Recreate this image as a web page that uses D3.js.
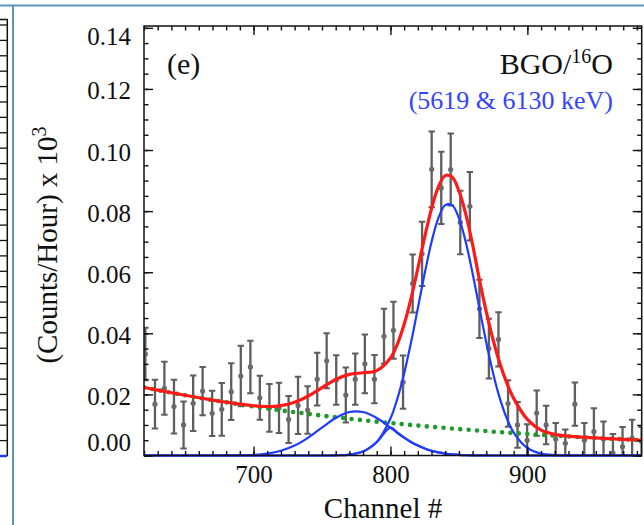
<!DOCTYPE html>
<html lang="en">
<head>
<meta charset="utf-8">
<title>BGO/16O (5619 &amp; 6130 keV)</title>
<style>
  body { margin: 0; background: #fff; }
  svg { display: block; }
  text { font-family: "Liberation Serif", "Times New Roman", serif; fill: #111; }
</style>
</head>
<body>
<svg width="644" height="525"></svg>
<script src="https://d3js.org/d3.v7.min.js"></script>
<script>

// measured spectrum, bin centres (channel) and counts/hour x 10^3 with errors
var channels = [621.0, 628.0, 634.9, 641.9, 648.9, 655.9, 662.8, 669.8, 676.8, 683.7,
                690.7, 697.7, 704.6, 711.6, 718.6, 725.6, 732.5, 739.5, 746.5, 753.4,
                760.4, 767.4, 774.3, 781.3, 788.3, 795.3, 802.2, 809.2, 816.2, 823.1,
                830.1, 837.1, 844.0, 851.0, 858.0, 865.0, 871.9, 878.9, 885.9, 892.8,
                899.8, 906.8, 913.7, 920.7, 927.7, 934.7, 941.6, 948.6, 955.6, 962.5,
                969.5, 976.5, 983.4];
var counts = [0.0332, 0.0168, 0.0220, 0.0160, 0.0100, 0.0171, 0.0211, 0.0138, 0.0151, 0.0209,
              0.0260, 0.0290, 0.0189, 0.0156, 0.0156, 0.0118, 0.0164, 0.0149, 0.0250, 0.0310,
              0.0247, 0.0198, 0.0250, 0.0300, 0.0250, 0.0390, 0.0410, 0.0240, 0.0563, 0.0660,
              0.0937, 0.0876, 0.0936, 0.0763, 0.0816, 0.0480, 0.0350, 0.0380, 0.0170, 0.0100,
              0.0050, 0.0139, 0.0100, 0.0054, 0.0040, 0.0168, 0.0050, 0.0078, 0.0054, 0.0008,
              0.0029, 0.0057, 0.0046];
var errors = [0.0086, 0.0080, 0.0087, 0.0088, 0.0077, 0.0091, 0.0079, 0.0074, 0.0086, 0.0093,
              0.0099, 0.0086, 0.0072, 0.0078, 0.0082, 0.0077, 0.0094, 0.0078, 0.0086, 0.0090,
              0.0081, 0.0090, 0.0084, 0.0096, 0.0079, 0.0090, 0.0093, 0.0087, 0.0095, 0.0105,
              0.0124, 0.0118, 0.0118, 0.0104, 0.0112, 0.0095, 0.0098, 0.0089, 0.0076, 0.0075,
              0.0052, 0.0074, 0.0063, 0.0052, 0.0045, 0.0071, 0.0056, 0.0077, 0.0057, 0.0062,
              0.0064, 0.0060, 0.0047];

var fitChannels = [620, 630, 640, 650, 660, 670, 680, 690, 700, 710, 720, 730, 740, 750, 760,
                   770, 780, 790, 800, 805, 810, 815, 820, 825, 830, 835, 840, 845, 850, 855,
                   860, 865, 870, 875, 880, 885, 890, 900, 910, 920, 930, 940, 950, 960, 970,
                   980, 984];
var background = [0.02230, 0.02140, 0.02054, 0.01971, 0.01892, 0.01815, 0.01742, 0.01672, 0.01605, 0.01540,
                  0.01478, 0.01418, 0.01361, 0.01306, 0.01254, 0.01203, 0.01155, 0.01108, 0.01064, 0.01042,
                  0.01021, 0.00999, 0.00980, 0.00959, 0.00940, 0.00921, 0.00902, 0.00884, 0.00866, 0.00848,
                  0.00831, 0.00814, 0.00798, 0.00781, 0.00765, 0.00750, 0.00735, 0.00705, 0.00677, 0.00649,
                  0.00623, 0.00598, 0.00574, 0.00551, 0.00529, 0.00507, 0.00499];
var peak5619 = [0, 0, 0, 0, 0, 0, 0.00002, 0.00007, 0.00023, 0.00064,
                0.00155, 0.00324, 0.00586, 0.00913, 0.01228, 0.01423, 0.01423, 0.01228, 0.00913, 0.00745,
                0.00586, 0.00444, 0.00324, 0.00228, 0.00155, 0.00101, 0.00064, 0.00039, 0.00023, 0.00013,
                0.00007, 0.00003, 0.00001, 0, 0, 0, 0, 0, 0, 0,
                0, 0, 0, 0, 0, 0, 0];
var peak6130 = [0, 0, 0, 0, 0, 0, 0, 0, 0, 0,
                0, 0, 0, 0, 0.00006, 0.00031, 0.00130, 0.00442, 0.01212, 0.01854,
                0.02688, 0.03696, 0.04820, 0.05960, 0.06989, 0.07772, 0.08195, 0.08195, 0.07772, 0.06989,
                0.05960, 0.04820, 0.03696, 0.02688, 0.01854, 0.01212, 0.00752, 0.00246, 0.00065, 0.00014,
                0, 0, 0, 0, 0, 0, 0];
var totalFit = [0.02230, 0.02140, 0.02054, 0.01971, 0.01892, 0.01815, 0.01744, 0.01679, 0.01628, 0.01604,
                0.01633, 0.01742, 0.01947, 0.02219, 0.02488, 0.02657, 0.02708, 0.02778, 0.03189, 0.03641,
                0.04295, 0.05139, 0.06124, 0.07147, 0.08084, 0.08794, 0.09161, 0.09118, 0.08661, 0.07900,
                0.06900, 0.05750, 0.04700, 0.03780, 0.03000, 0.02370, 0.01870, 0.01180, 0.00830, 0.00690,
                0.00635, 0.00600, 0.00574, 0.00551, 0.00529, 0.00507, 0.00499];

var xTicks = [700, 800, 900];
var yTicks = [0, 0.02, 0.04, 0.06, 0.08, 0.10, 0.12, 0.14];

var svg = d3.select("svg");

var x = d3.scaleLinear().domain([620, 983.5]).range([144, 641.7]);
var y = d3.scaleLinear().domain([0, 0.1406]).range([455.5, 26]);

// frame of the figure page + edge of the neighbouring panel
svg.append("line").attr("x1", 0).attr("x2", 644).attr("y1", 5.5).attr("y2", 5.5)
    .attr("stroke", "#5b95bb").attr("stroke-width", 2);
svg.append("line").attr("x1", 13).attr("x2", 13).attr("y1", 5).attr("y2", 525)
    .attr("stroke", "#5b95bb").attr("stroke-width", 2);

var yPrev = d3.scaleLinear().domain([0, 0.14]).range([456, 25]);
var prev = svg.append("g");
prev.append("path").attr("d", "M0,19.5H7.3V456").attr("fill", "none")
    .attr("stroke", "#111").attr("stroke-width", 1.5);
prev.selectAll("line").data(d3.range(0.005, 0.141, 0.005)).enter().append("line")
    .attr("x1", 0).attr("x2", 7.3)
    .attr("y1", function(d) { return yPrev(d); }).attr("y2", function(d) { return yPrev(d); })
    .attr("stroke", "#111").attr("stroke-width", 1.3);
prev.append("line").attr("x1", 0).attr("x2", 7.3).attr("y1", 456).attr("y2", 456)
    .attr("stroke", "#1e3cff").attr("stroke-width", 2.5);

// clip regions
var defs = svg.append("defs");
defs.append("clipPath").attr("id", "clip-data").append("rect")
    .attr("x", 144).attr("y", 26).attr("width", 497.7).attr("height", 429.5);
defs.append("clipPath").attr("id", "clip-fit").append("rect")
    .attr("x", 144).attr("y", 26).attr("width", 497.7).attr("height", 432);

// measured points with error bars
var pts = svg.append("g").attr("clip-path", "url(#clip-data)");
var pt = pts.selectAll("g").data(counts).enter().append("g")
    .attr("transform", function(d, i) { return "translate(" + x(channels[i]) + ",0)"; });

pt.append("line")
    .attr("y1", function(d, i) { return y(d - errors[i]); })
    .attr("y2", function(d, i) { return y(d + errors[i]); })
    .attr("stroke", "#5e5e5e").attr("stroke-width", 2.3);
pt.append("line")
    .attr("x1", -3.2).attr("x2", 3.2)
    .attr("y1", function(d, i) { return y(d + errors[i]); })
    .attr("y2", function(d, i) { return y(d + errors[i]); })
    .attr("stroke", "#5e5e5e").attr("stroke-width", 2);
pt.append("line")
    .attr("x1", -3.2).attr("x2", 3.2)
    .attr("y1", function(d, i) { return y(d - errors[i]); })
    .attr("y2", function(d, i) { return y(d - errors[i]); })
    .attr("stroke", "#5e5e5e").attr("stroke-width", 2);
pt.append("circle")
    .attr("cy", function(d) { return y(d); })
    .attr("r", 2.6).attr("fill", "#6a6a6a");

// fit curves
var fits = svg.append("g").attr("clip-path", "url(#clip-fit)");
function fitLine(vals) {
  return d3.line()
      .x(function(d, i) { return x(fitChannels[i]); })
      .y(function(d) { return y(d); })
      .curve(d3.curveCatmullRom.alpha(0.5))(vals);
}

fits.append("path").attr("d", fitLine(background))
    .attr("fill", "none").attr("stroke", "#1f9a2c").attr("stroke-width", 4.6)
    .attr("stroke-linecap", "round").attr("stroke-dasharray", "0 8.4");
fits.append("path").attr("d", fitLine(peak5619))
    .attr("fill", "none").attr("stroke", "#1e3cff").attr("stroke-width", 2.2);
fits.append("path").attr("d", fitLine(peak6130))
    .attr("fill", "none").attr("stroke", "#1e3cff").attr("stroke-width", 2.2);
fits.append("path").attr("d", fitLine(totalFit))
    .attr("fill", "none").attr("stroke", "#ff1a1a").attr("stroke-width", 3.2);

// axes: ticks point inwards on all four sides
function styleAxis(g) {
  g.select(".domain").remove();
  g.selectAll(".tick line").attr("stroke", "#111").attr("stroke-width", 1.4);
  g.selectAll("text").style("font-size", "25px").attr("fill", "#111")
      .style("font-family", "\"Liberation Serif\", serif");
}

var xMinor = d3.range(620, 984, 10);
var yMinor = d3.range(0, 0.1406, 0.005);

svg.append("g").attr("transform", "translate(0," + y(0) + ")")
    .call(d3.axisBottom(x).tickValues(xMinor).tickSize(-4.5).tickFormat(""))
    .call(styleAxis);
svg.append("g").attr("transform", "translate(0," + y(0) + ")")
    .call(d3.axisBottom(x).tickValues(xTicks).tickSize(-9).tickPadding(10).tickFormat(d3.format("d")))
    .call(styleAxis);
svg.append("g").attr("transform", "translate(0," + y.range()[1] + ")")
    .call(d3.axisTop(x).tickValues(xMinor).tickSize(-4.5).tickFormat(""))
    .call(styleAxis);
svg.append("g").attr("transform", "translate(0," + y.range()[1] + ")")
    .call(d3.axisTop(x).tickValues(xTicks).tickSize(-9).tickFormat(""))
    .call(styleAxis);

svg.append("g").attr("transform", "translate(" + x.range()[0] + ",0)")
    .call(d3.axisLeft(y).tickValues(yMinor).tickSize(-4.5).tickFormat(""))
    .call(styleAxis);
var gy = svg.append("g").attr("transform", "translate(" + x.range()[0] + ",0)")
    .call(d3.axisLeft(y).tickValues(yTicks).tickSize(-9).tickPadding(13).tickFormat(d3.format(".2f")))
    .call(styleAxis);
// first and last labels are nudged inside the frame, as in the original
gy.selectAll("text").attr("y", function(d) {
  if (d === 0) return -13;
  if (d > 0.13) return 9;
  return 2;
});
svg.append("g").attr("transform", "translate(" + x.range()[1] + ",0)")
    .call(d3.axisRight(y).tickValues(yMinor).tickSize(-4.5).tickFormat(""))
    .call(styleAxis);
svg.append("g").attr("transform", "translate(" + x.range()[1] + ",0)")
    .call(d3.axisRight(y).tickValues(yTicks).tickSize(-9).tickFormat(""))
    .call(styleAxis);

// plot box
svg.append("rect")
    .attr("x", x.range()[0]).attr("y", y.range()[1])
    .attr("width", x.range()[1] - x.range()[0]).attr("height", y.range()[0] - y.range()[1])
    .attr("fill", "none").attr("stroke", "#111").attr("stroke-width", 1.5);
// baseline of the gaussians sits on the bottom axis
fits.append("path").attr("d", fitLine(peak5619.map(function(d, i) { return Math.min(d, peak6130[i]); })))
    .attr("fill", "none").attr("stroke", "#1e3cff").attr("stroke-width", 2.2);

// titles and labels
svg.append("text")
    .attr("x", 383).attr("y", 518)
    .attr("text-anchor", "middle").style("font-size", "29px")
    .text("Channel #");

var yl = svg.append("text")
    .attr("transform", "translate(57,245) rotate(-90)")
    .attr("text-anchor", "middle").style("font-size", "29px");
yl.append("tspan").text("(Counts/Hour) x 10");
yl.append("tspan").attr("baseline-shift", "super").style("font-size", "20px").text("3");

svg.append("text")
    .attr("x", 167).attr("y", 74)
    .style("font-size", "30px")
    .text("(e)");

var ttl = svg.append("text")
    .attr("x", 613).attr("y", 73.5)
    .attr("text-anchor", "end").style("font-size", "30px");
ttl.append("tspan").text("BGO/");
ttl.append("tspan").attr("baseline-shift", "super").style("font-size", "20px").text("16");
ttl.append("tspan").text("O");

svg.append("text")
    .attr("x", 613).attr("y", 108.5)
    .attr("text-anchor", "end").style("font-size", "26px")
    .style("fill", "#3344ff")
    .text("(5619 & 6130 keV)");

</script>
</body>
</html>
